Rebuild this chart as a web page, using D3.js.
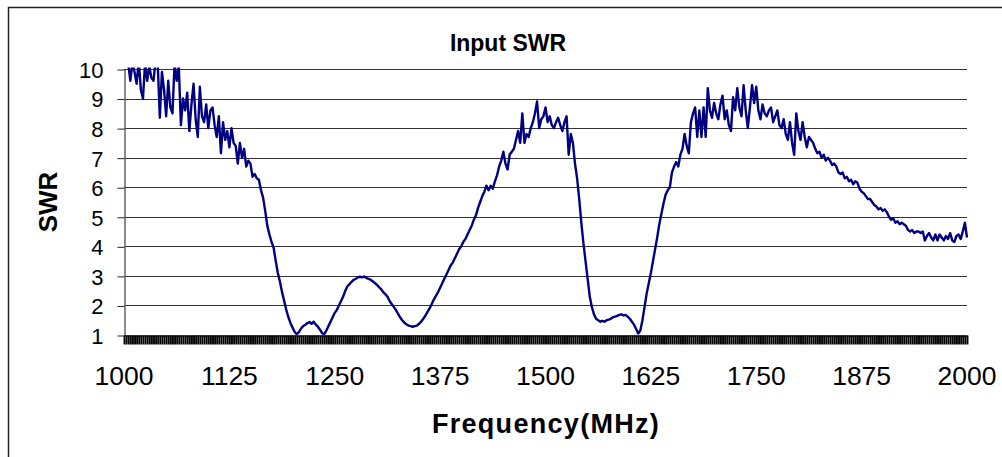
<!DOCTYPE html>
<html>
<head>
<meta charset="utf-8">
<script src="https://cdn.jsdelivr.net/npm/d3@7"></script>
<style>
  body { margin: 0; background: #fff; }
  svg { display: block; font-family: Arial, "Liberation Sans", sans-serif; }
</style>
</head>
<body>
<svg id="chart"></svg>
<script>
// SWR, one value every 2.5 MHz from 1000 to 2000 MHz
const swr = [
  10.3,10.1,10.2,9.6,10.2,9.9,9.5,10.3,9.3,9.0,
  10.2,9.6,10.1,9.7,9.6,10.3,10.2,8.35,9.9,9.3,
  8.4,9.6,8.7,8.5,10.2,9.6,10.1,8.1,9.0,8.6,
  9.2,7.9,8.8,9.5,8.3,7.7,9.4,8.4,8.2,8.8,
  8.0,8.6,8.7,8.1,7.7,8.4,7.15,8.2,7.6,7.9,
  7.35,8.0,7.5,7.4,6.8,7.5,7.0,7.3,6.7,6.9,
  6.8,6.35,6.45,6.3,6.25,5.9,5.65,5.2,4.7,4.4,
  4.15,3.95,3.5,3.1,2.8,2.45,2.15,1.85,1.6,1.4,
  1.25,1.1,1.03,1.1,1.22,1.3,1.35,1.4,1.44,1.38,
  1.45,1.35,1.28,1.18,1.06,1.03,1.15,1.3,1.45,1.6,
  1.75,1.85,2.0,2.15,2.3,2.5,2.65,2.72,2.8,2.87,
  2.9,2.95,2.97,2.95,2.98,2.93,2.9,2.87,2.82,2.76,
  2.7,2.62,2.55,2.45,2.38,2.3,2.15,2.05,1.95,1.85,
  1.72,1.6,1.5,1.42,1.36,1.32,1.3,1.28,1.3,1.32,
  1.38,1.45,1.55,1.65,1.78,1.9,2.05,2.2,2.32,2.45,
  2.6,2.75,2.9,3.05,3.2,3.35,3.45,3.6,3.75,3.9,
  4.0,4.15,4.25,4.4,4.55,4.7,4.9,5.05,5.3,5.5,
  5.7,5.85,6.05,5.9,6.05,5.95,6.2,6.4,6.7,6.9,
  7.2,6.8,6.6,7.1,7.2,7.3,7.6,7.9,7.5,8.5,
  7.5,7.8,7.7,8.0,8.2,8.5,8.9,8.0,8.3,8.4,
  8.7,8.2,8.4,8.1,8.0,8.2,8.35,8.1,7.9,8.2,
  8.4,7.1,7.8,7.5,6.8,6.3,5.6,4.8,4.1,3.5,
  2.9,2.3,1.95,1.7,1.55,1.5,1.45,1.48,1.45,1.5,
  1.52,1.55,1.6,1.62,1.65,1.68,1.7,1.66,1.68,1.62,
  1.55,1.45,1.35,1.2,1.05,1.15,1.5,1.95,2.4,2.75,
  3.1,3.5,3.9,4.3,4.75,5.1,5.45,5.75,5.9,6.0,
  6.5,6.7,6.85,6.7,7.1,7.3,7.8,7.4,7.15,8.2,
  8.5,8.7,7.7,8.6,7.7,8.7,7.7,9.35,8.6,8.35,
  8.85,8.5,8.3,8.8,9.1,8.3,8.6,8.1,7.9,9.05,
  8.6,9.35,8.7,8.4,9.45,8.6,8.0,8.7,9.45,8.85,
  9.4,8.6,8.3,8.8,8.5,8.4,8.6,8.7,8.2,8.4,
  8.6,8.1,8.0,8.3,7.8,7.6,8.2,7.5,7.1,8.5,
  7.9,7.6,8.2,7.7,7.35,7.7,7.6,7.5,7.3,7.15,
  7.2,7.0,7.1,6.9,7.0,6.9,6.75,6.8,6.7,6.5,
  6.45,6.5,6.3,6.35,6.2,6.25,6.1,6.2,6.15,5.95,
  5.85,5.8,5.7,5.6,5.6,5.5,5.4,5.35,5.25,5.3,
  5.2,5.25,5.15,5.0,4.9,4.95,4.8,4.85,4.75,4.8,
  4.75,4.7,4.55,4.5,4.55,4.45,4.5,4.5,4.45,4.5,
  4.2,4.35,4.45,4.3,4.2,4.4,4.2,4.4,4.3,4.2,
  4.35,4.25,4.45,4.2,4.15,4.35,4.4,4.25,4.5,4.8,
  4.3
]
const freqStart = 1000
const freqStep = 2.5
const freqs = swr.map((d, i) => freqStart + i * freqStep)

const xLabels = [1000, 1125, 1250, 1375, 1500, 1625, 1750, 1875, 2000]
const yTicks = [1, 2, 3, 4, 5, 6, 7, 8, 9, 10]

const chart = {
  width: 1002,
  height: 457,
  left: 124,
  right: 967,
  top: 69,
  bottom: 335
}

const svg = d3.select('#chart')
  .attr('width', chart.width)
  .attr('height', chart.height)

// outer frame, only left and top edges fall inside the picture
svg.append('rect')
  .attr('x', 8.5).attr('y', 7.5)
  .attr('width', 1100).attr('height', 600)
  .attr('fill', 'none')
  .attr('stroke', '#222')
  .attr('stroke-width', 1.5)

const x = d3.scaleLinear().domain([1000, 2000]).range([chart.left, chart.right])
const y = d3.scaleLinear().domain([1, 10]).range([chart.bottom, chart.top])

// horizontal grid
svg.append('g')
  .selectAll('line')
  .data(yTicks.slice(1))
  .join('line')
  .attr('x1', chart.left).attr('x2', chart.right)
  .attr('y1', d => Math.round(y(d)) + 0.5)
  .attr('y2', d => Math.round(y(d)) + 0.5)
  .attr('stroke', '#333')
  .attr('stroke-width', 1.2)

// y axis
const yAxis = svg.append('g')
  .attr('transform', `translate(${chart.left + 0.5}, 0.5)`)
  .call(d3.axisLeft(y).tickValues(yTicks).tickSize(7).tickPadding(14).tickSizeOuter(0))
yAxis.select('.domain').attr('stroke', '#666').attr('stroke-width', 1.5)
yAxis.selectAll('.tick line').attr('stroke', '#222')
yAxis.selectAll('.tick text')
  .attr('font-size', 22)
  .attr('fill', '#000')
  .attr('dy', '0.36em')

// x axis: a tick per sample, labels every 125 MHz
const xAxis = svg.append('g')
  .attr('transform', `translate(0, ${chart.bottom + 0.5})`)
  .call(d3.axisBottom(x).tickValues(freqs).tickSize(9).tickFormat('').tickSizeOuter(0))
xAxis.select('.domain').attr('stroke', '#222').attr('stroke-width', 1.5)
xAxis.selectAll('.tick line').attr('stroke', '#000').attr('stroke-width', 1.9)

svg.append('g')
  .selectAll('text')
  .data(xLabels)
  .join('text')
  .attr('x', d => x(d))
  .attr('y', 385)
  .attr('text-anchor', 'middle')
  .attr('font-size', 26.5)
  .attr('fill', '#000')
  .text(d => d)

// the trace, clipped to the plot box like the spreadsheet does
svg.append('clipPath')
  .attr('id', 'plotClip')
  .append('rect')
  .attr('x', chart.left).attr('y', chart.top - 1.5)
  .attr('width', chart.right - chart.left + 2).attr('height', chart.bottom - chart.top + 1.5)

const line = d3.line()
  .x((d, i) => x(freqs[i]))
  .y(d => y(d))

svg.append('path')
  .datum(swr)
  .attr('clip-path', 'url(#plotClip)')
  .attr('d', line)
  .attr('fill', 'none')
  .attr('stroke', '#000080')
  .attr('stroke-width', 2.4)
  .attr('stroke-linejoin', 'round')

// titles
svg.append('text')
  .attr('x', 508).attr('y', 51)
  .attr('text-anchor', 'middle')
  .attr('font-size', 23)
  .attr('font-weight', 'bold')
  .text('Input SWR')

svg.append('text')
  .attr('transform', 'translate(57, 202) rotate(-90)')
  .attr('text-anchor', 'middle')
  .attr('font-size', 26)
  .attr('font-weight', 'bold')
  .text('SWR')

svg.append('text')
  .attr('x', 546).attr('y', 433)
  .attr('text-anchor', 'middle')
  .attr('font-size', 27)
  .attr('font-weight', 'bold')
  .attr('letter-spacing', 1.3)
  .text('Frequency(MHz)')
</script>
</body>
</html>
